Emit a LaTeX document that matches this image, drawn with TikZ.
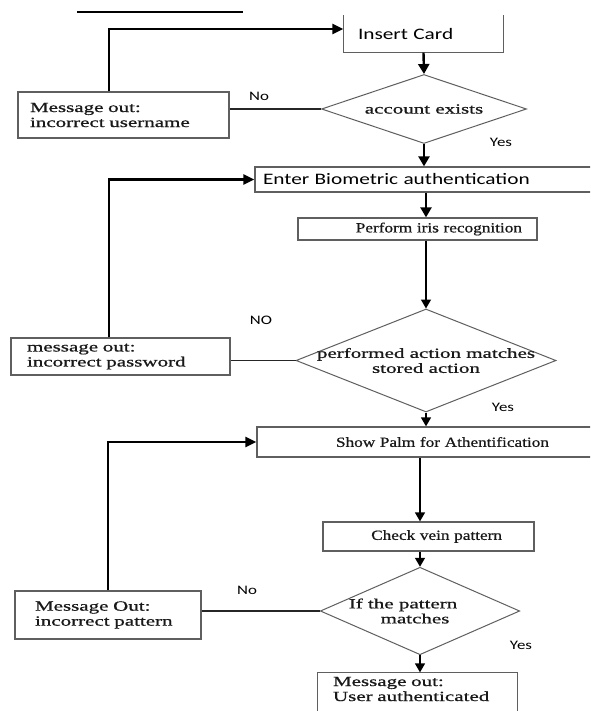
\documentclass[tikz,border=0pt]{standalone}
\usepackage{fontspec}
\usepackage{xcolor}
\usepackage{tikz}
\usetikzlibrary{shapes.geometric,arrows.meta}
\setmainfont{Liberation Serif}
\newfontfamily\msgfont[FakeStretch=1.5, FakeBold=0.8]{Liberation Serif}
\newfontfamily\stepfont[FakeStretch=1.23, FakeBold=0.6]{Liberation Serif}
\newfontfamily\cardfont[FakeStretch=1.33]{Carlito}
\newfontfamily\ynfont[FakeStretch=1.3]{Carlito}
\definecolor{boxgy}{RGB}{95,95,95}
\definecolor{inkgy}{RGB}{25,25,25}

\begin{document}
\begin{tikzpicture}[x=1pt, y=-1pt, line join=miter,
  msgbox/.style={draw=boxgy, line width=1.3pt, inner sep=0pt, align=left, text=inkgy,
    font=\msgfont\fontsize{14}{15}\selectfont},
  stepbox/.style={draw=boxgy, line width=1.3pt, inner sep=0pt, align=right, text=inkgy,
    font=\stepfont\fontsize{14}{15}\selectfont},
  cardbox/.style={draw=boxgy, line width=1.3pt, inner sep=0pt, align=left,
    font=\cardfont\fontsize{16}{18}\selectfont},
  query/.style={diamond, draw=boxgy, line width=1pt, inner sep=0pt, align=center, text=inkgy,
    font=\msgfont\fontsize{14}{15}\selectfont},
  yn/.style={inner sep=0pt, font=\ynfont\fontsize{13}{15}\selectfont},
  flow/.style={-{Triangle[width=10pt,length=9pt]}, line width=1.5pt},
  flowthick/.style={-{Triangle[width=11pt,length=10pt]}, line width=2.4pt},
  back/.style={-{Triangle[width=10pt,length=11pt]}, line width=2.4pt},
  noline/.style={line width=1.1pt, draw=black!85}]

\useasboundingbox (0,0) rectangle (590,711);
\clip (0,0) rectangle (590,711);
\fill[white] (0,0) rectangle (590,711);

%% stray rule at the top
\draw[line width=1.8pt] (77,12) -- (243,12);

%% card and account check
\node[cardbox, draw=none, inner xsep=14pt, text width=131pt, minimum height=36pt] (ins) at (423.5,34) {Insert Card};
\draw[boxgy, line width=1.3pt] (ins.north west) |- (ins.south east) -- (ins.north east);
\node[query, shape aspect=2.97, minimum width=205pt, minimum height=69pt] (acc) at (424,109) {account exists};
\node[msgbox, inner xsep=12pt, text width=187pt, minimum height=46pt] (msgU) at (123.5,115) {Message out:\\incorrect username};

%% biometric and iris
\node[cardbox, inner xsep=8pt, text width=329pt, minimum height=25pt] (bio) at (427.5,179.5) {Enter Biometric authentication};
\node[stepbox, inner xsep=15pt, text width=209pt, minimum height=22pt] (iris) at (417.5,229) {Perform iris recognition};
\node[query, shape aspect=2.52, inner sep=-8pt, minimum width=260pt, minimum height=103pt] (act) at (426,360.5) {performed action matches\\stored action};
\node[msgbox, inner xsep=16pt, text width=187pt, minimum height=37pt] (msgP) at (120.5,356.5) {message out:\\incorrect password};

%% palm and vein
\node[stepbox, align=left, inner xsep=79pt, text width=225pt, minimum height=30pt] (palm) at (448.5,442) {Show Palm for Athentification};
\node[stepbox, inner xsep=32pt, text width=147pt, minimum height=29pt] (vein) at (428.5,536.5) {Check vein pattern};
\node[query, shape aspect=2.28, minimum width=198pt, minimum height=87pt] (pat) at (420,611) {If the pattern\rule{34pt}{0pt}\\matches\rule{10pt}{0pt}};
\node[msgbox, inner xsep=20pt, text width=146pt, minimum height=48pt] (msgT) at (108,615) {Message Out:\\incorrect pattern};
\node[msgbox, draw=none, inner xsep=15pt, text width=169pt, minimum height=32pt] (auth) at (417.5,689) {Message out:\\User authenticated};
\draw[boxgy, line width=1.3pt] ([yshift=-12pt]auth.south west) |- (auth.north east) -- ([yshift=-12pt]auth.south east);

%% yes / no labels
\node[yn] (no1) at (259,96) {No};
\node[yn] (yes1) at (501,142) {Yes};
\node[yn] (no2) at (261,320) {NO};
\node[yn] (yes2) at (503,407) {Yes};
\node[yn] (no3) at (247,590) {No};
\node[yn] (yes3) at (521,645) {Yes};

%% main flow
\draw[flowthick] (ins.south) -- (acc.north);
\draw[flowthick] (acc.south) -- (acc.south |- bio.north);
\draw[flowthick] (bio.south -| act.north) -- (iris.north -| act.north);
\draw[flow] (iris.south -| act.north) -- (act.north);
\draw[flow] (act.south) -- (act.south |- palm.north);
\draw[flow] (palm.south -| pat.north) -- (vein.north -| pat.north);
\draw[flow] (vein.south -| pat.north) -- (pat.north);
\draw[flow] (pat.south) -- (pat.south |- auth.north);

%% failed checks
\draw[noline] (acc.west) -- (acc.west -| msgU.east);
\draw[noline] (act.west) -- (act.west -| msgP.east);
\draw[noline] (pat.west) -- (pat.west -| msgT.east);

%% back to the start of each step
\draw[back] ([xshift=-14.5pt]msgU.north) |- ([yshift=5pt]ins.west);
\draw[back] ([xshift=-11.5pt]msgP.north) |- (bio.west);
\draw[back] (msgT.north) |- (palm.west);

\end{tikzpicture}
\end{document}
